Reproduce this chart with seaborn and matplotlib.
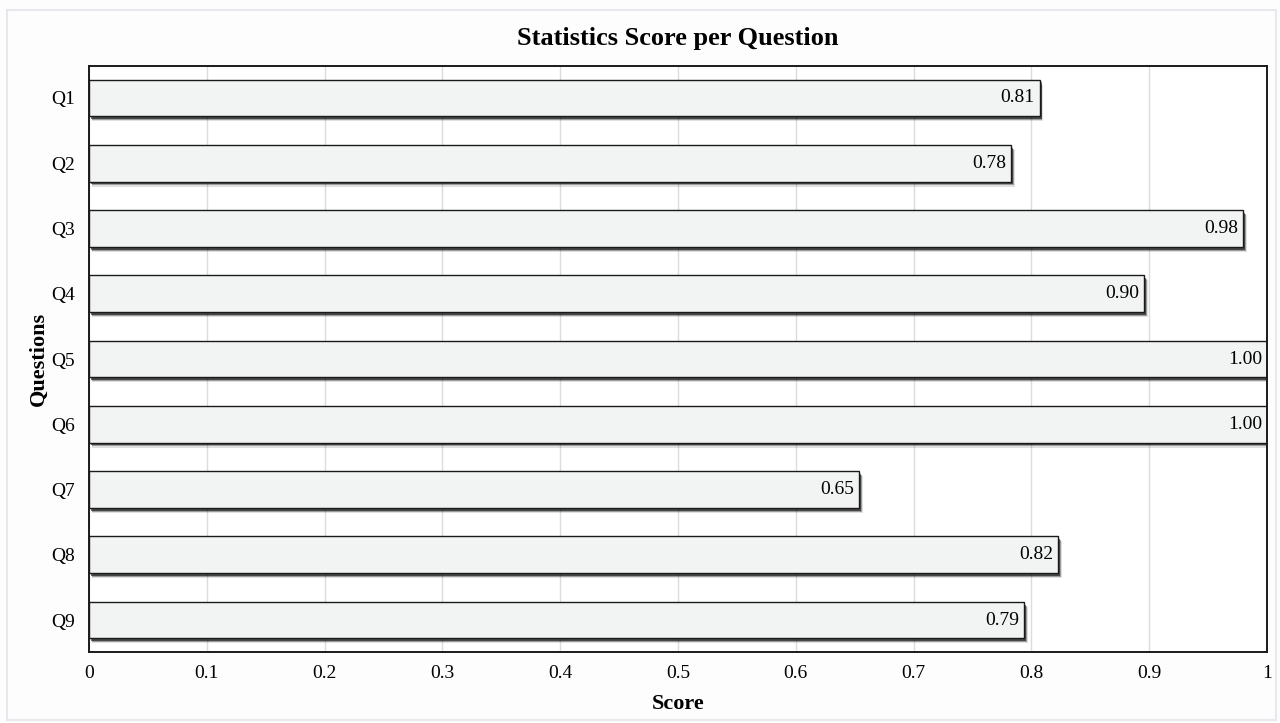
import matplotlib
matplotlib.use("Agg")
import matplotlib.pyplot as plt
import matplotlib.patheffects as pe
from matplotlib.patches import Rectangle
import seaborn as sns
import pandas as pd

# Data
questions = ["Q1", "Q2", "Q3", "Q4", "Q5", "Q6", "Q7", "Q8", "Q9"]
scores = [0.807, 0.783, 0.980, 0.896, 1.00, 1.00, 0.654, 0.823, 0.794]
x_ticks = [0, 0.1, 0.2, 0.3, 0.4, 0.5, 0.6, 0.7, 0.8, 0.9, 1.0]
x_tick_labels = ["0", "0.1", "0.2", "0.3", "0.4", "0.5", "0.6", "0.7", "0.8", "0.9", "1"]

df = pd.DataFrame({"Question": questions, "Score": scores})

sns.set_theme(style="whitegrid")
plt.rcParams["font.family"] = ["Liberation Serif", "DejaVu Serif"]
plt.rcParams["text.color"] = "black"

fig = plt.figure(figsize=(12.8, 7.23), dpi=100)
fig.patch.set_facecolor("#fdfdfd")
ax = fig.add_axes([0.0695, 0.0982, 0.9203, 0.8105])
ax.set_facecolor("white")

sns.barplot(data=df, x="Score", y="Question", orient="h", color="#f2f3f3",
            edgecolor="#1a1a1a", linewidth=1.0, width=0.56, ax=ax, saturation=1)

# soft drop shadow under each bar (a few stacked offsets)
for bar in ax.patches:
    bar.set_path_effects([
        pe.SimplePatchShadow(offset=(2.4, -3.6), shadow_rgbFace="#000000", alpha=0.12),
        pe.SimplePatchShadow(offset=(1.9, -2.8), shadow_rgbFace="#000000", alpha=0.3),
        pe.SimplePatchShadow(offset=(1.4, -2.0), shadow_rgbFace="#000000", alpha=0.55),
        pe.Normal(),
    ])

# value labels inside the bar ends
for i, v in enumerate(scores):
    ax.annotate(f"{v:.2f}", xy=(v, i), xytext=(-3.5, 0), textcoords="offset points",
                ha="right", va="center", fontsize=14, color="black")

ax.set_xlim(0, 1)
ax.set_ylim(8.49, -0.49)
ax.set_xticks(x_ticks)
ax.set_xticklabels(x_tick_labels)
ax.tick_params(axis="both", length=0, labelsize=14, colors="black")
ax.tick_params(axis="x", pad=9)
ax.tick_params(axis="y", pad=10)
ax.xaxis.grid(True, color="#dcdcdc", linewidth=1.0)
ax.yaxis.grid(False)
ax.set_axisbelow(True)

for side in ["left", "right", "top", "bottom"]:
    ax.spines[side].set_visible(True)
    ax.spines[side].set_color("#1a1a1a")
    ax.spines[side].set_linewidth(1.4)

ax.set_title("Statistics Score per Question", fontsize=19, fontweight="bold", pad=15, color="black")
ax.set_xlabel("Score", fontsize=16, fontweight="bold", labelpad=9, color="black")
ax.set_ylabel("Questions", fontsize=16, fontweight="bold", labelpad=2, color="black")

# faint outer frame of the figure
fig.patches.append(Rectangle((0.0055, 0.004), 0.991, 0.982, transform=fig.transFigure,
                             fill=False, edgecolor="#e6e8ee", linewidth=1.5))

fig.savefig("out.png", dpi=100, facecolor=fig.get_facecolor())
